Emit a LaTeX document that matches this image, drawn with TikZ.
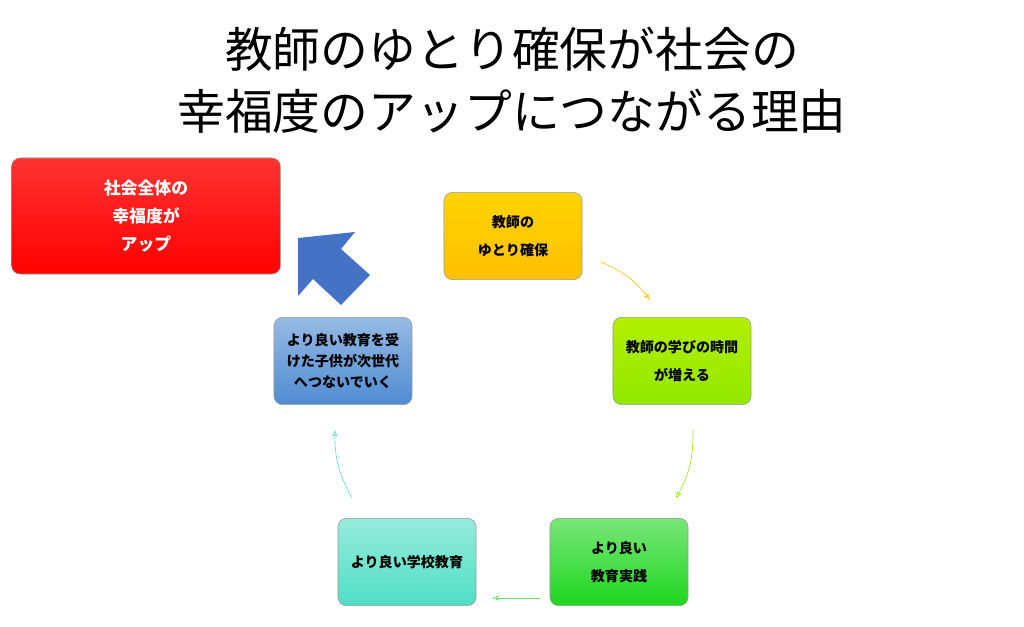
\documentclass[tikz,border=0pt]{standalone}
\usepackage{fontspec}
\setmainfont{Noto Sans CJK JP}
\usetikzlibrary{arrows.meta}
\definecolor{boxred}{RGB}{255,0,0}
\definecolor{boxorange}{RGB}{255,192,0}
\definecolor{boxlime}{RGB}{146,232,0}
\definecolor{boxgreen}{RGB}{30,214,30}
\definecolor{boxteal}{RGB}{80,222,196}
\definecolor{boxblue}{RGB}{80,140,210}
\definecolor{arrowblue}{RGB}{68,114,196}
\begin{document}
\begin{tikzpicture}[x=0.025cm,y=-0.025cm,
           box_style/.style={draw=black!40,rounded corners=6pt,minimum width=3.45cm,minimum height=2.18cm,
                             align=center,font=\fontsize{10pt}{20pt}\selectfont\bfseries,text=black},
           cycle_style/.style={-{Stealth[length=5pt,open]},thin,bend left=15}]
  \useasboundingbox (0,0) rectangle (1024,626);
  % title
  \node (title) at (512,80) [align=center,font=\fontsize{34pt}{44pt}\selectfont]
        {教師のゆとり確保が社会の\\幸福度のアップにつながる理由};
  % boxes
  \node[box_style,top color=red!80!white,bottom color=boxred,minimum width=6.72cm,minimum height=2.9cm,text=white,
        font=\fontsize{12pt}{20pt}\selectfont\bfseries]
        (goal) at (146,216) {社会全体の\\幸福度が\\アップ};
  \node[box_style,top color=boxorange!70!yellow,bottom color=boxorange] (yutori) at (513,236) {教師の\\ゆとり確保};
  \node[box_style,top color=boxlime!70!yellow,bottom color=boxlime] (manabi) at (682,361) {教師の学びの時間\\が増える};
  \node[box_style,top color=boxgreen!60!white,bottom color=boxgreen] (jissen) at (619,562) {より良い\\教育実践};
  \node[box_style,top color=boxteal!60!white,bottom color=boxteal] (gakko) at (407,562) {より良い学校教育};
  \node[box_style,top color=boxblue!60!white,bottom color=boxblue,font=\fontsize{10pt}{15pt}\selectfont\bfseries]
        (jisedai) at (343,361) {より良い教育を受\\けた子供が次世代\\へつないでいく};
  % cycle arrows
  \coordinate (a1) at (601,262); \coordinate (b1) at (650,300);
  \coordinate (a2) at (693,430); \coordinate (b2) at (676,498);
  \coordinate (a3) at (540,598); \coordinate (b3) at (492,598);
  \coordinate (a4) at (352,498); \coordinate (b4) at (335,430);
  \draw[cycle_style,draw=boxorange] (a1) to (b1);
  \draw[cycle_style,draw=boxlime] (a2) to (b2);
  \draw[cycle_style,draw=boxgreen!70!white,bend left=0] (a3) to (b3);
  \draw[cycle_style,draw=boxteal] (a4) to (b4);
  % big arrow
  \fill[arrowblue] (298,238) -- (355,232) -- (341,249) -- (370,275) -- (341,305) -- (313,279) -- (298,296) -- cycle;
\end{tikzpicture}
\end{document}
